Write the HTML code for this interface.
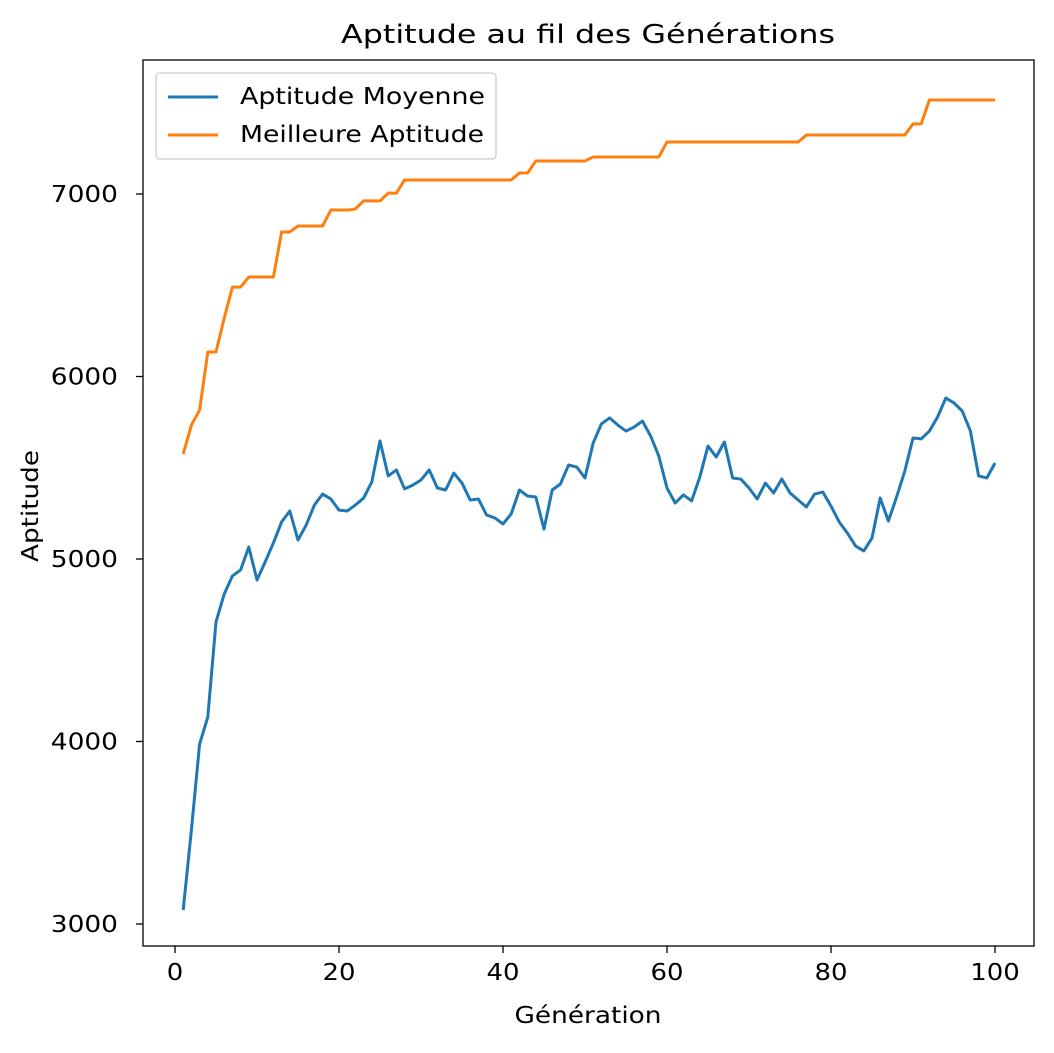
<!DOCTYPE html>
<html><head><meta charset="utf-8"><style>
body{margin:0;background:#fff;}
svg text{font-family:"DejaVu Sans","Liberation Sans",sans-serif;fill:#000;}
</style></head><body>
<svg id="chart" width="1054" height="1048" xmlns="http://www.w3.org/2000/svg">
<rect width="1054" height="1048" fill="#fff"/>
<text x="588" y="43" font-size="26" text-anchor="middle" textLength="494" lengthAdjust="spacingAndGlyphs">Aptitude au fil des Générations</text>
<g id="xticks"></g>
<g id="yticks"></g>
<g id="series"></g>
<rect x="143" y="60" width="891" height="886" fill="none" stroke="#000" stroke-width="1.3"/>
<text x="588" y="1023" font-size="23" text-anchor="middle" textLength="147" lengthAdjust="spacingAndGlyphs">Génération</text>
<text transform="translate(38,506) rotate(-90)" font-size="23" text-anchor="middle" textLength="112" lengthAdjust="spacingAndGlyphs">Aptitude</text>
<g>
<rect x="156" y="73" width="340" height="86" rx="4" fill="#fff" stroke="#ccc" stroke-width="1.3"/>
<line x1="168" y1="97" x2="218" y2="97" stroke="#1f77b4" stroke-width="3"/>
<text x="240" y="104" font-size="23" textLength="245" lengthAdjust="spacingAndGlyphs">Aptitude Moyenne</text>
<line x1="168" y1="135" x2="218" y2="135" stroke="#ff7f0e" stroke-width="3"/>
<text x="240" y="142" font-size="23" textLength="244" lengthAdjust="spacingAndGlyphs">Meilleure Aptitude</text>
</g>
</svg>
<script>
const avgValues=[3077,3515,3986,4134,4655,4808,4907,4940,5066,4885,4984,5088,5203,5263,5104,5186,5296,5356,5329,5268,5263,5296,5334,5422,5647,5455,5488,5384,5405,5433,5488,5389,5378,5471,5416,5323,5329,5241,5225,5192,5247,5378,5345,5340,5164,5378,5411,5515,5504,5444,5636,5740,5773,5734,5701,5723,5756,5674,5564,5389,5307,5351,5318,5449,5619,5559,5641,5444,5438,5389,5329,5416,5362,5438,5362,5323,5285,5356,5367,5290,5203,5142,5071,5044,5115,5334,5208,5340,5482,5663,5658,5701,5778,5882,5855,5811,5701,5455,5444,5526];
const bestValues=[5575,5734,5816,6134,6134,6320,6490,6490,6545,6545,6545,6545,6792,6792,6825,6825,6825,6825,6912,6912,6912,6918,6962,6962,6962,7005,7005,7077,7077,7077,7077,7077,7077,7077,7077,7077,7077,7077,7077,7077,7077,7115,7115,7181,7181,7181,7181,7181,7181,7181,7203,7203,7203,7203,7203,7203,7203,7203,7203,7285,7285,7285,7285,7285,7285,7285,7285,7285,7285,7285,7285,7285,7285,7285,7285,7285,7323,7323,7323,7323,7323,7323,7323,7323,7323,7323,7323,7323,7323,7384,7384,7515,7515,7515,7515,7515,7515,7515,7515,7515];
const xTicks=[0,20,40,60,80,100];
const yTicks=[3000,4000,5000,6000,7000];
const NS="http://www.w3.org/2000/svg";
const xs=v=>175+v*8.2;
const ys=v=>924-(v-3000)*0.1825;
const xg=document.getElementById('xticks'),yg=document.getElementById('yticks'),sg=document.getElementById('series');
xTicks.forEach(t=>{
 const l=document.createElementNS(NS,'line');
 
 
 l.setAttribute('x1',xs(t));l.setAttribute('x2',xs(t));l.setAttribute('y1',946);l.setAttribute('y2',953);l.setAttribute('stroke','#000');l.setAttribute('stroke-width',1.3);xg.appendChild(l);
 const tx=document.createElementNS(NS,'text');
 
 
 tx.setAttribute('x',xs(t));tx.setAttribute('y',980);tx.setAttribute('font-size',23);tx.setAttribute('text-anchor','middle');
 tx.setAttribute('textLength',String(t).length*16.5);tx.setAttribute('lengthAdjust','spacingAndGlyphs');
 tx.textContent=t;xg.appendChild(tx);
});
yTicks.forEach(t=>{
 const l=document.createElementNS(NS,'line');
 
 
 l.setAttribute('x1',136);l.setAttribute('x2',143);l.setAttribute('y1',ys(t));l.setAttribute('y2',ys(t));l.setAttribute('stroke','#000');l.setAttribute('stroke-width',1.3);yg.appendChild(l);
 const tx=document.createElementNS(NS,'text');
 
 
 tx.setAttribute('x',118);tx.setAttribute('y',ys(t)+8);tx.setAttribute('font-size',23);tx.setAttribute('text-anchor','end');
 tx.setAttribute('textLength',String(t).length*16.8);tx.setAttribute('lengthAdjust','spacingAndGlyphs');
 tx.textContent=t;yg.appendChild(tx);
});
function drawLine(vals,color,name){
 const p=document.createElementNS(NS,'polyline');
 
 
 p.setAttribute('points',vals.map((v,i)=>xs(i+1)+','+ys(v)).join(' '));
 p.setAttribute('fill','none');p.setAttribute('stroke',color);p.setAttribute('stroke-width',3);p.setAttribute('stroke-linejoin','round');
 sg.appendChild(p);
}
drawLine(avgValues,'#1f77b4','average-fitness-line');
drawLine(bestValues,'#ff7f0e','best-fitness-line');
</script>
</body></html>
